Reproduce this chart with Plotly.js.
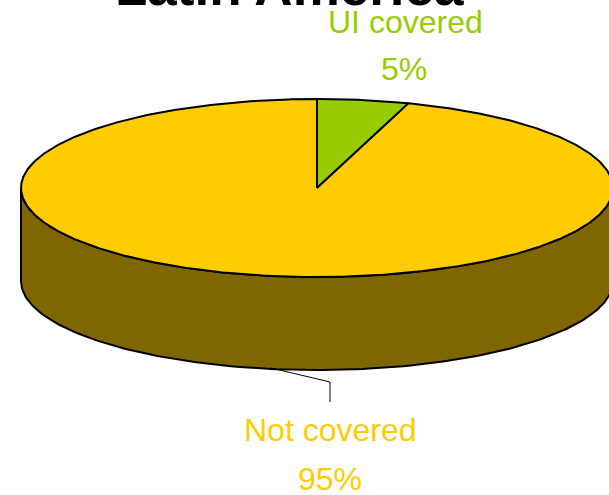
<!DOCTYPE html>
<html>
<head>
<meta charset="utf-8">
<script src="https://cdn.plot.ly/plotly-3.0.1.min.js"></script>
<style>html,body{margin:0;padding:0;background:#fff;}#chart{width:609px;height:495px;}</style>
</head>
<body>
<div id="chart"></div>
<script>
// ---- data ----
const chartTitle = "Latin America";
const categories = ["UI covered", "Not covered"];
const shares = [5, 95];

// ---- styling / geometry ----
const topColors = ["#99CC00", "#FFCC00"];
const sideColors = ["#667f00", "#806600"];
const labelColors = ["#99CC00", "#FFCC00"];
const cx = 317, cy = 188, rx = 296, ry = 89, depth = 93;
const W = 609, H = 495;

function pt(deg, dy) {
  const t = deg * Math.PI / 180;
  return [cx + rx * Math.sin(t), cy - ry * Math.cos(t) + (dy || 0)];
}

const total = shares.reduce((s, v) => s + v, 0);
const slices = [];
let acc = 0;
shares.forEach((v, i) => {
  const a0 = acc / total * 360;
  acc += v;
  const a1 = acc / total * 360;
  slices.push({i, a0, a1});
});

const traces = [];
const blk = {color: "#000", width: 2};

// side walls (front half only: angles 90..270)
slices.forEach(s => {
  const lo = Math.max(s.a0, 90), hi = Math.min(s.a1, 270);
  if (hi <= lo) return;
  const xs = [], ys = [];
  const n = 160;
  for (let k = 0; k <= n; k++) { const p = pt(lo + (hi - lo) * k / n, 0); xs.push(p[0]); ys.push(p[1]); }
  for (let k = n; k >= 0; k--) { const p = pt(lo + (hi - lo) * k / n, depth); xs.push(p[0]); ys.push(p[1]); }
  xs.push(xs[0]); ys.push(ys[0]);
  traces.push({type: "scatter", mode: "lines", x: xs, y: ys, fill: "toself",
    fillcolor: sideColors[s.i], line: blk, hoverinfo: "skip", showlegend: false});
});

// top faces
slices.forEach(s => {
  const xs = [cx], ys = [cy];
  const n = Math.max(20, Math.round((s.a1 - s.a0) * 2));
  for (let k = 0; k <= n; k++) { const p = pt(s.a0 + (s.a1 - s.a0) * k / n, 0); xs.push(p[0]); ys.push(p[1]); }
  xs.push(cx); ys.push(cy);
  traces.push({type: "scatter", mode: "lines", x: xs, y: ys, fill: "toself",
    fillcolor: topColors[s.i], line: blk, hoverinfo: "skip", showlegend: false});
});

// leader line for the big slice
const big = slices[1];
const mid = (big.a0 + big.a1) / 2;
const lp = pt(mid, depth);
traces.push({type: "scatter", mode: "lines",
  x: [lp[0], 330, 330], y: [lp[1] - 1, 382, 402],
  line: {color: "#000", width: 1}, hoverinfo: "skip", showlegend: false});

const font = "'Liberation Sans', Arial, sans-serif";
const fs = 32;
function lbl(text, xPx, topPx, color) {
  return {xref: "paper", yref: "paper", x: xPx / W, y: 1 - topPx / H, xanchor: "center", yanchor: "top",
    text: text, showarrow: false, font: {family: font, size: fs, color: color}};
}
const annotations = [
  {xref: "paper", yref: "paper", x: 289 / W, y: 1 + 14 / H, xanchor: "center", yanchor: "middle",
   text: "<b>" + chartTitle + "</b>", showarrow: false,
   font: {family: "'Liberation Sans', Arial, sans-serif", size: 53, color: "#000"}},
  lbl(categories[0], 405, 2, labelColors[0]),
  lbl(shares[0] + "%", 404, 49, labelColors[0]),
  lbl(categories[1], 330, 410, labelColors[1]),
  lbl(shares[1] + "%", 330, 459, labelColors[1])
];

const layout = {
  width: W, height: H,
  margin: {l: 0, r: 0, t: 0, b: 0, pad: 0},
  paper_bgcolor: "#fff", plot_bgcolor: "#fff",
  xaxis: {range: [0, W], visible: false, fixedrange: true},
  yaxis: {range: [H, 0], visible: false, fixedrange: true},
  showlegend: false,
  annotations: annotations
};

Plotly.newPlot("chart", traces, layout, {displayModeBar: false, staticPlot: true});
</script>
</body>
</html>
